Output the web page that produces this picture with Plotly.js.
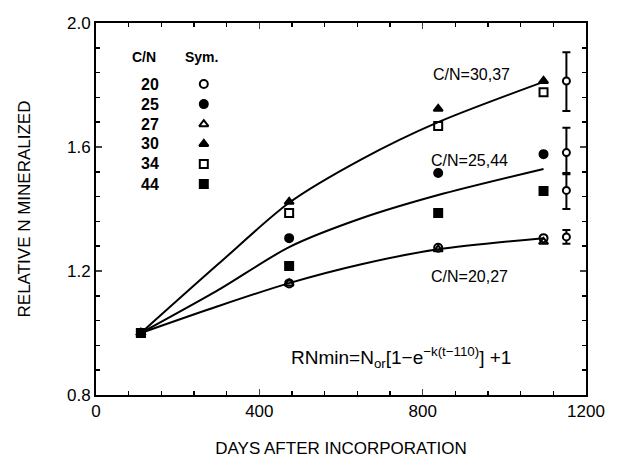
<!DOCTYPE html>
<html><head><meta charset="utf-8">
<script src="https://cdn.plot.ly/plotly-3.0.1.min.js"></script>
<style>html,body{margin:0;padding:0;background:#fff}#chart{width:620px;height:465px}</style>
</head><body><div id="chart"></div>
<script>
// Observed days
var days = [110, 473, 838, 1096];
// Relative N mineralized per C/N ratio
var cn20 = [1.0, 1.16, 1.275, 1.306];
var cn25 = [1.0, 1.306, 1.516, 1.577];
var cn27 = [1.0, 1.16, 1.27, 1.294];
var cn30 = [1.0, 1.423, 1.723, 1.813];
var cn34 = [1.0, 1.387, 1.668, 1.777];
var cn44 = [1.0, 1.216, 1.387, 1.458];
// Fitted curves
var fitDays = [110, 300, 473, 650, 838, 1096];
var fit3037 = [1.0, 1.223, 1.42, 1.56, 1.68, 1.81];
var fit2544 = [1.0, 1.139, 1.277, 1.37, 1.445, 1.529];
var fit2027 = [1.0, 1.087, 1.161, 1.222, 1.27, 1.306];
// Error bar column
var errDay = [1152, 1152, 1152, 1152];
var errMean = [1.813, 1.582, 1.46, 1.31];
var errPlus = [0.093, 0.08, 0.056, 0.022];
var errMinus = [0.097, 0.07, 0.06, 0.022];
// Legend table
var legCN = ['20', '25', '27', '30', '34', '44'];
var legRowY = [0.836, 0.782, 0.728, 0.675, 0.621, 0.567];
var legSym = ['circle-open', 'circle', 'triangle-up-open', 'triangle-up', 'square-open', 'square'];
// Axis ticks
var xTicks = [0, 400, 800, 1200];
var yTicks = [0.8, 1.2, 1.6, 2.0];
var yTickText = ['0.8', '1.2', '1.6', '2.0'];

var traces = [];
function line(y){ return {x: fitDays, y: y, mode: 'lines', line: {color: '#000', width: 2, shape: 'spline', smoothing: 0.8}, hoverinfo: 'skip'}; }
traces.push(line(fit3037), line(fit2544), line(fit2027));
var series = [cn20, cn25, cn27, cn30, cn34, cn44];
series.forEach(function(s, i){
  traces.push({x: days, y: s, mode: 'markers', marker: {symbol: legSym[i], size: 8, color: '#000', line: {color: '#000', width: 2}}});
});
traces.push({x: errDay, y: errMean, mode: 'markers',
  marker: {symbol: 'circle', size: 7, color: '#fff', line: {color: '#000', width: 2}},
  error_y: {type: 'data', symmetric: false, array: errPlus, arrayminus: errMinus, color: '#000', thickness: 2, width: 4}});
traces.push({x: legCN.map(function(){ return 0; }), y: legRowY,
  xaxis: 'x2', yaxis: 'y2', mode: 'markers',
  marker: {symbol: legSym, size: 8, color: '#000', line: {color: '#000', width: 2}}});
// empty trace so the mirrored tick axes (top/right) are drawn
traces.push({x: [], y: [], xaxis: 'x3', yaxis: 'y3', mode: 'markers', hoverinfo: 'skip'});

var ann = [];
var fnt = 'Liberation Sans Narrow, Arial Narrow, Liberation Sans, Arial, sans-serif';
ann.push({xref: 'paper', yref: 'paper', x: 0.098, y: 0.908, yanchor: 'middle', text: '<b>C/N</b>', showarrow: false, xanchor: 'center', font: {family: fnt, size: 14, color: '#000'}});
ann.push({xref: 'paper', yref: 'paper', x: 0.216, y: 0.908, yanchor: 'middle', text: '<b>Sym.</b>', showarrow: false, xanchor: 'center', font: {family: fnt, size: 14, color: '#000'}});
legCN.forEach(function(c, i){
  ann.push({xref: 'paper', yref: 'paper', x: 0.132, y: legRowY[i], yanchor: 'middle', text: '<b>' + c + '</b>', showarrow: false, xanchor: 'right', font: {family: fnt, size: 16, color: '#000'}});
});

var lab = {family: 'Liberation Sans, Arial, sans-serif', size: 16, color: '#000'};
ann.push({x: 920, y: 1.833, text: 'C/N=30,37', showarrow: false, font: lab});
ann.push({x: 915, y: 1.558, text: 'C/N=25,44', showarrow: false, font: lab});
ann.push({x: 915, y: 1.181, text: 'C/N=20,27', showarrow: false, font: lab});
ann.push({x: 472, y: 0.92, xanchor: 'left', text: 'RNmin=N<sub>or</sub>[1−e<sup>−k(t−110)</sup>] +1', showarrow: false,
  font: {family: 'Liberation Sans, Arial, sans-serif', size: 19, color: '#000'}});

var minorX = {dtick: 80, tick0: 0, ticks: 'inside', ticklen: 4, tickwidth: 1.5, tickcolor: '#000'};
var minorY = {dtick: 0.08, tick0: 0.8, ticks: 'inside', ticklen: 4, tickwidth: 1.5, tickcolor: '#000'};
var layout = {
  width: 620, height: 465,
  margin: {l: 96, r: 34, t: 23, b: 70},
  paper_bgcolor: '#fff', plot_bgcolor: 'rgba(0,0,0,0)',
  showlegend: false,
  font: {family: 'Liberation Sans, Arial, sans-serif', color: '#000'},
  xaxis: {range: [0, 1200], tickvals: xTicks, ticks: 'inside', ticklen: 6, tickwidth: 1.5, minor: minorX,
    showline: true, linecolor: '#000', linewidth: 2, mirror: true, showgrid: false, zeroline: false,
    tickfont: {size: 17}, title: {text: 'DAYS AFTER INCORPORATION', font: {size: 17}, standoff: 22}},
  yaxis: {range: [0.8, 2.0], tickvals: yTicks, ticktext: yTickText, ticks: 'inside', ticklen: 6, tickwidth: 1.5, minor: minorY,
    showline: true, linecolor: '#000', linewidth: 2, mirror: true, showgrid: false, zeroline: false,
    tickfont: {size: 17}, title: {text: 'RELATIVE N MINERALIZED', font: {size: 17}, standoff: 32}},
  xaxis3: {overlaying: 'x', side: 'top', anchor: 'y3', range: [0, 1200], tickvals: xTicks, showticklabels: false,
    ticks: 'inside', ticklen: 6, tickwidth: 1.5, minor: minorX, showgrid: false, zeroline: false, showline: false},
  yaxis3: {overlaying: 'y', side: 'right', anchor: 'x3', range: [0.8, 2.0], tickvals: yTicks, showticklabels: false,
    ticks: 'inside', ticklen: 6, tickwidth: 1.5, minor: minorY, showgrid: false, zeroline: false, showline: false},
  xaxis2: {domain: [0.2, 0.24], range: [-1, 1], visible: false, anchor: 'y2'},
  yaxis2: {domain: [0, 1], range: [0, 1], visible: false, anchor: 'x2'},
  annotations: ann
};
Plotly.newPlot('chart', traces, layout, {staticPlot: true});
</script></body></html>
